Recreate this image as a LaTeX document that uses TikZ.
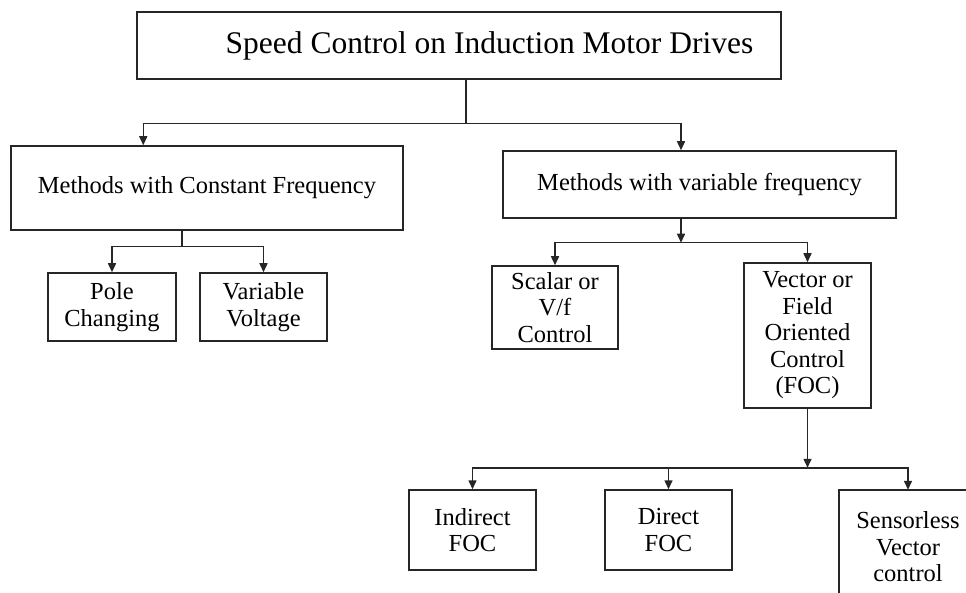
\documentclass[tikz,border=0pt]{standalone}
\usepackage{fontspec}
\setmainfont{Liberation Serif}
\usetikzlibrary{arrows.meta}
\newcommand{\bxfont}{\fontsize{24.5}{26.5}\selectfont}
\newcommand{\ttlfont}{\fontsize{31.5}{34}\selectfont}
\begin{document}
\begin{tikzpicture}[x=1pt,y=-1pt,
  box/.style={draw=black!85, line width=1.5pt, inner sep=0pt, align=center, font=\bxfont, text=black},
  conn/.style={draw=black!85, line width=1.5pt},
  arr/.style={conn, -{Triangle[length=9pt,width=8pt]}}]
\useasboundingbox (0,0) rectangle (966,593);
\clip (0,0) rectangle (966,593);
% boxes
\node[box, minimum width=644pt, minimum height=67pt] (top) at (459,45.5) {};
\node[font=\ttlfont, inner sep=0pt] (toptext) at (489.5,46) {Speed Control on Induction Motor Drives};
\node[box, minimum width=392pt, minimum height=84pt] (cf) at (207,188) {Methods with Constant Frequency};
\node[box, minimum width=393pt, minimum height=67pt] (vf) at (699.5,184.5) {Methods with variable frequency};
\node[box, minimum width=128pt, minimum height=68pt] (pole) at (112,307) {Pole\\Changing};
\node[box, minimum width=127pt, minimum height=68pt] (vv) at (263.5,307) {Variable\\Voltage};
\node[box, minimum width=126pt, minimum height=83pt] (scalar) at (555,307.5) {Scalar or\\V/f\\Control};
\node[box, minimum width=127pt, minimum height=145pt] (vector) at (807.5,335.5) {Vector or\\Field\\Oriented\\Control\\(FOC)};
\node[box, minimum width=127pt, minimum height=80pt] (ind) at (472.5,530) {Indirect\\FOC};
\node[box, minimum width=127pt, minimum height=80pt] (dir) at (668.5,530) {Direct\\FOC};
\node[inner sep=0pt, minimum width=160pt, minimum height=140pt] (sens) at (919,560) {};
\draw[conn] (sens.south west) -- (sens.north west) -- (sens.north east);
\node[font=\bxfont, align=center, inner sep=0pt] (senstext) at (908,547) {Sensorless\\Vector\\control};
% connectors
\draw[conn] ([xshift=7pt]top.south) -- ++(0,44) coordinate (j1);
\draw[arr] (j1) -| ([xshift=133pt]cf.north west);
\draw[arr] (j1) -| ([xshift=-18.5pt]vf.north);
\draw[conn] ([xshift=-25pt]cf.south) -- ++(0,16) coordinate (j2);
\draw[arr] (j2) -| (pole.north);
\draw[arr] (j2) -| (vv.north);
\draw[arr] ([xshift=-18.5pt]vf.south) -- ++(0,24) coordinate (j3);
\draw[arr] (j3) -| (scalar.north);
\draw[arr] (j3) -| (vector.north);
\draw[arr] (vector.south) -- ++(0,59) coordinate (j4);
\draw[arr] (j4) -| (ind.north);
\draw[arr] (j4) -| (dir.north);
\draw[arr] (j4) -| ([xshift=-11pt]sens.north);
\end{tikzpicture}
\end{document}
